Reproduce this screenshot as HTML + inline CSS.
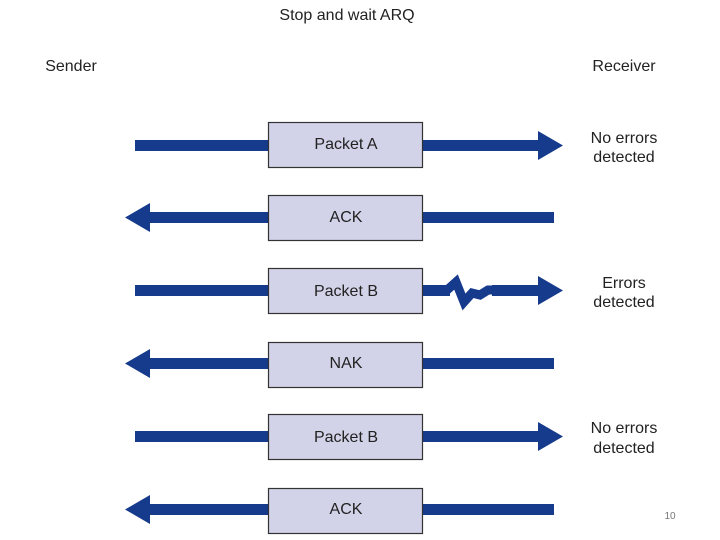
<!DOCTYPE html>
<html><head><meta charset="utf-8"><style>
html,body{margin:0;padding:0;background:#fff;}
svg{display:block;}
text{font-family:"Liberation Sans",sans-serif;fill:#222;}
</style></head><body>
<svg width="720" height="540" viewBox="0 0 720 540" xmlns="http://www.w3.org/2000/svg">
<text x="347" y="20" font-size="16" text-anchor="middle">Stop and wait ARQ</text>
<text x="71" y="71" font-size="16" text-anchor="middle">Sender</text>
<text x="624" y="71" font-size="16" text-anchor="middle">Receiver</text>
<g fill="#163a8c">
<rect x="135" y="140" width="410" height="11"/>
<polygon points="538,131 563,145.5 538,160"/>
<rect x="140" y="212" width="414" height="11"/>
<polygon points="150,203 125,217.5 150,232"/>
<rect x="135" y="285" width="315" height="11"/>
<rect x="492" y="285" width="52" height="11"/>
<polygon points="538,276 563,290.5 538,305"/>
<rect x="140" y="358" width="414" height="11"/>
<polygon points="150,349 125,363.5 150,378"/>
<rect x="135" y="431" width="410" height="11"/>
<polygon points="538,422 563,436.5 538,451"/>
<rect x="140" y="504" width="414" height="11"/>
<polygon points="150,495 125,509.5 150,524"/>
</g>
<polyline points="446,291 456,282 464,302 472,293 480,295 488,290 496,290" fill="none" stroke="#163a8c" stroke-width="9" stroke-linejoin="miter"/>
<g fill="#d2d2e8" stroke="#333" stroke-width="1.2">
<rect x="268.5" y="122.5" width="154" height="45"/>
<rect x="268.5" y="195.5" width="154" height="45"/>
<rect x="268.5" y="268.5" width="154" height="45"/>
<rect x="268.5" y="342.5" width="154" height="45"/>
<rect x="268.5" y="414.5" width="154" height="45"/>
<rect x="268.5" y="488.5" width="154" height="45"/>
</g>
<g font-size="16" text-anchor="middle">
<text x="346" y="149">Packet A</text>
<text x="346" y="222">ACK</text>
<text x="346" y="296">Packet B</text>
<text x="346" y="368">NAK</text>
<text x="346" y="442">Packet B</text>
<text x="346" y="514">ACK</text>
<text x="624" y="143">No errors</text>
<text x="624" y="162">detected</text>
<text x="624" y="288">Errors</text>
<text x="624" y="307">detected</text>
<text x="624" y="433">No errors</text>
<text x="624" y="453">detected</text>
</g>
<text x="670" y="519" font-size="10" text-anchor="middle" style="fill:#777">10</text>
</svg>
</body></html>
